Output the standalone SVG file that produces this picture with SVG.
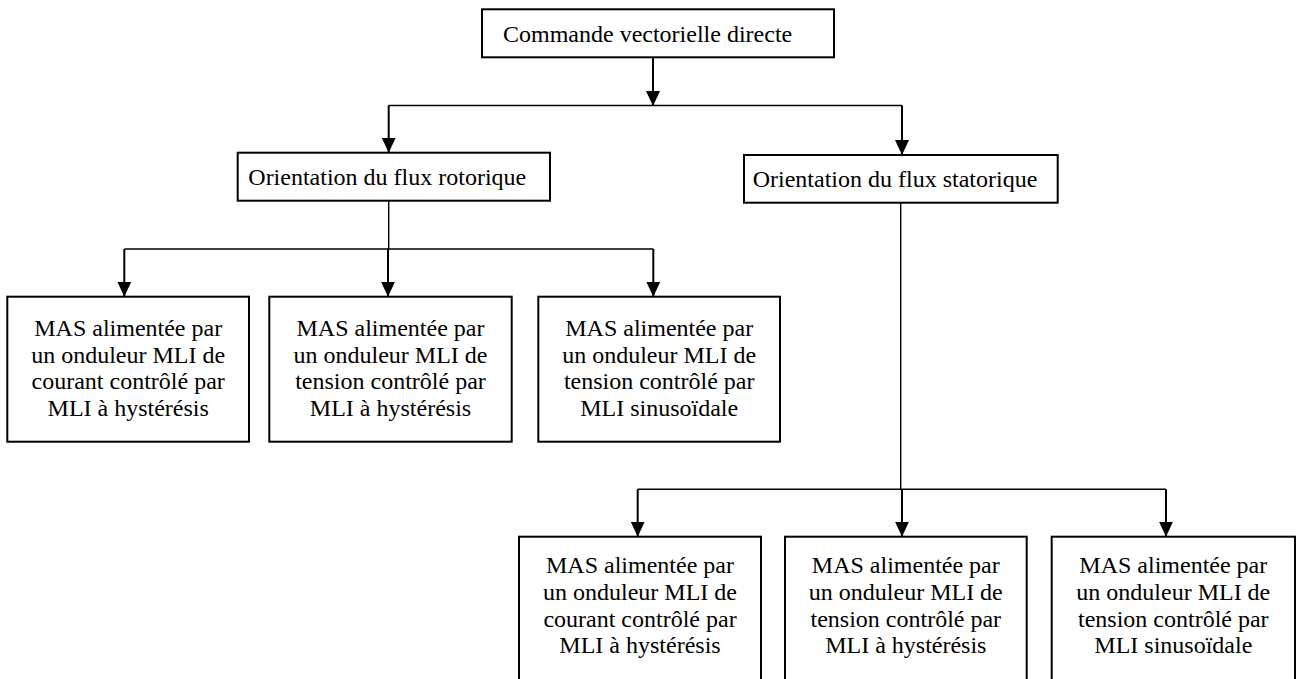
<svg xmlns="http://www.w3.org/2000/svg" width="1297" height="679" viewBox="0 0 1297 679">
<defs>
<marker id="arr" markerUnits="userSpaceOnUse" markerWidth="15" markerHeight="14" refX="15" refY="7" orient="auto">
<path d="M0,0 L15,7 L0,14 z" fill="#000"/>
</marker>
<style>
.box{fill:#fff;stroke:#000;stroke-width:2}
.t{font-family:"Liberation Serif","Times New Roman",serif;font-size:24px;fill:#000}
.c{text-anchor:middle}
.ln{stroke:#000;stroke-width:1.4;fill:none}
.ar{stroke:#000;stroke-width:2;fill:none;marker-end:url(#arr)}
</style>
</defs>
<rect width="1297" height="679" fill="#fff"/>
<g id="connectors">
<line class="ar" x1="653" y1="57" x2="653" y2="106"/>
<line class="ln" x1="388.7" y1="105.5" x2="902" y2="105.5"/>
<line class="ar" x1="388.7" y1="105.5" x2="388.7" y2="152.7"/>
<line class="ar" x1="902" y1="105.5" x2="902" y2="155"/>
<line class="ln" x1="388.7" y1="200.7" x2="388.7" y2="249"/>
<line class="ln" x1="124.3" y1="249" x2="653.3" y2="249"/>
<line class="ar" x1="124.3" y1="249" x2="124.3" y2="296.7"/>
<line class="ar" x1="388" y1="249" x2="388" y2="296.7"/>
<line class="ar" x1="653.3" y1="249" x2="653.3" y2="296.7"/>
<line class="ln" x1="900.7" y1="200" x2="900.7" y2="489.3"/>
<line class="ln" x1="637.7" y1="489.3" x2="1166" y2="489.3"/>
<line class="ar" x1="637.7" y1="489.3" x2="637.7" y2="536.7"/>
<line class="ar" x1="902" y1="489.3" x2="902" y2="536.7"/>
<line class="ar" x1="1166" y1="489.3" x2="1166" y2="536.7"/>
</g>
<g id="n-cvd">
<rect class="box" x="482" y="9.3" width="352" height="48"/>
<text class="t" x="503" y="41.7">Commande vectorielle directe</text>
</g>
<g id="n-rotor">
<rect class="box" x="237.7" y="152.7" width="312.3" height="48"/>
<text class="t" x="248.3" y="185">Orientation du flux rotorique</text>
</g>
<g id="n-stator">
<rect class="box" x="744" y="155" width="313.7" height="47.7"/>
<text class="t" x="752.7" y="186.7">Orientation du flux statorique</text>
</g>
<g id="n-r1">
<rect class="box" x="7.3" y="296.7" width="241.7" height="145"/>
<text class="t c" x="128.2" y="336"><tspan x="128.2">MAS alimentée par</tspan><tspan x="128.2" dy="26.6">un onduleur MLI de</tspan><tspan x="128.2" dy="26.6">courant contrôlé par</tspan><tspan x="128.2" dy="26.6">MLI à hystérésis</tspan></text>
</g>
<g id="n-r2">
<rect class="box" x="269.3" y="296.7" width="242.4" height="145"/>
<text class="t c" x="390.5" y="336"><tspan x="390.5">MAS alimentée par</tspan><tspan x="390.5" dy="26.6">un onduleur MLI de</tspan><tspan x="390.5" dy="26.6">tension contrôlé par</tspan><tspan x="390.5" dy="26.6">MLI à hystérésis</tspan></text>
</g>
<g id="n-r3">
<rect class="box" x="538.3" y="296.7" width="241.7" height="145"/>
<text class="t c" x="659.2" y="336"><tspan x="659.2">MAS alimentée par</tspan><tspan x="659.2" dy="26.6">un onduleur MLI de</tspan><tspan x="659.2" dy="26.6">tension contrôlé par</tspan><tspan x="659.2" dy="26.6">MLI sinusoïdale</tspan></text>
</g>
<g id="n-s1">
<rect class="box" x="519" y="536.7" width="242" height="145"/>
<text class="t c" x="640" y="573.3"><tspan x="640">MAS alimentée par</tspan><tspan x="640" dy="26.6">un onduleur MLI de</tspan><tspan x="640" dy="26.6">courant contrôlé par</tspan><tspan x="640" dy="26.6">MLI à hystérésis</tspan></text>
</g>
<g id="n-s2">
<rect class="box" x="785" y="536.7" width="241.7" height="145"/>
<text class="t c" x="905.8" y="573.3"><tspan x="905.8">MAS alimentée par</tspan><tspan x="905.8" dy="26.6">un onduleur MLI de</tspan><tspan x="905.8" dy="26.6">tension contrôlé par</tspan><tspan x="905.8" dy="26.6">MLI à hystérésis</tspan></text>
</g>
<g id="n-s3">
<rect class="box" x="1051.7" y="536.7" width="243.3" height="145"/>
<text class="t c" x="1173.3" y="573.3"><tspan x="1173.3">MAS alimentée par</tspan><tspan x="1173.3" dy="26.6">un onduleur MLI de</tspan><tspan x="1173.3" dy="26.6">tension contrôlé par</tspan><tspan x="1173.3" dy="26.6">MLI sinusoïdale</tspan></text>
</g>
</svg>
